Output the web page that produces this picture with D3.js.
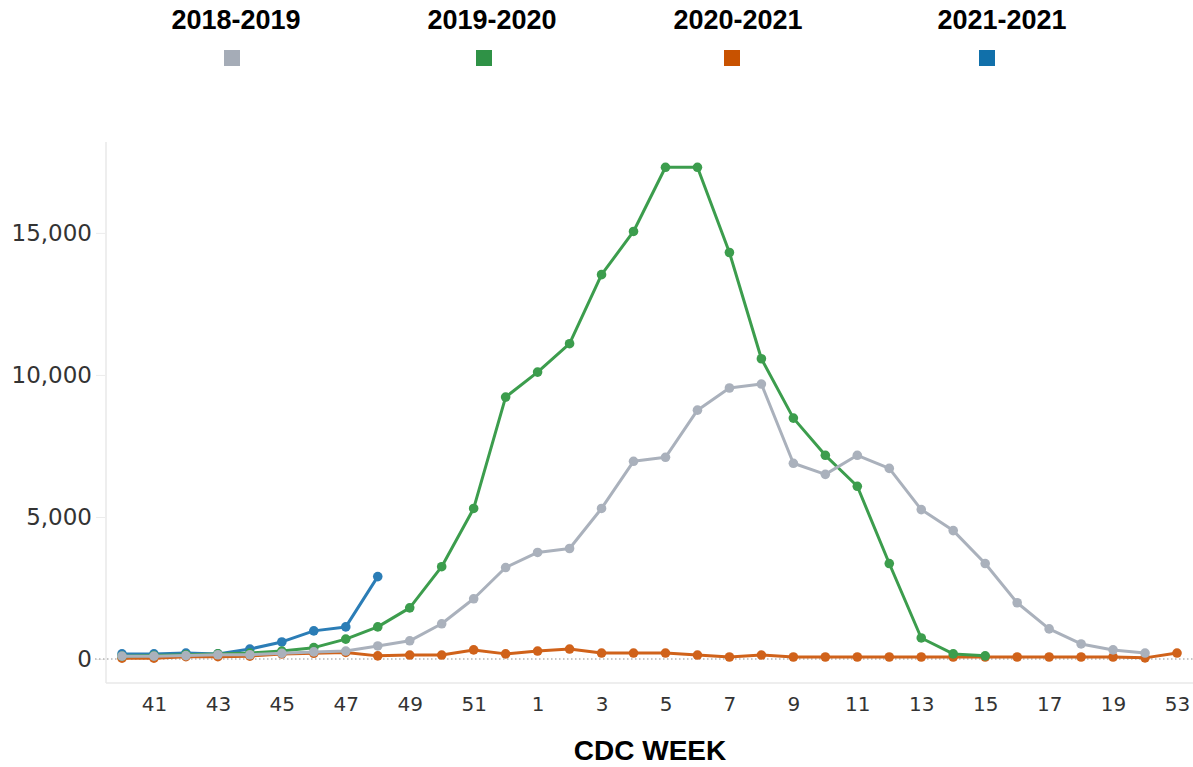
<!DOCTYPE html>
<html>
<head>
<meta charset="utf-8">
<script src="https://cdn.jsdelivr.net/npm/d3@7"></script>
<style>
  body { margin: 0; background: #fff; }
  svg { display: block; }
</style>
</head>
<body>
<div id="chart"></div>
<script>
(function() {
    "use strict";

    // CDC weeks, season order (week 53 sits at the end)
    const weeks = [40, 41, 42, 43, 44, 45, 46, 47, 48, 49, 50, 51, 52,
                   1, 2, 3, 4, 5, 6, 7, 8, 9, 10, 11, 12, 13, 14, 15, 16, 17, 18, 19, 20, 53];
    const tickWeeks = [41, 43, 45, 47, 49, 51, 1, 3, 5, 7, 9, 11, 13, 15, 17, 19, 53];
    const yTicks = [0, 5000, 10000, 15000];

    const seasons = ["2018-2019", "2019-2020", "2020-2021", "2021-2021"];
    const legendColors = ["#a5acb7", "#2f9246", "#c85200", "#1170aa"];
    const lineColors = ["#aab1bc", "#3c9d4d", "#d0621a", "#2b7db6"];

    // values per week, null = no data
    const s2018 = [100, 100, 120, 150, 150, 200, 250, 280, 460, 640, 1240, 2120, 3220,
                   3750, 3890, 5300, 6960, 7100, 8760, 9540, 9680, 6890, 6500, 7170, 6710,
                   5260, 4520, 3360, 1980, 1060, 530, 320, 210, null];
    const s2019 = [100, 120, 150, 180, 210, 280, 400, 700, 1130, 1800, 3250, 5300, 9220,
                   10100, 11100, 13530, 15050, 17310, 17310, 14310, 10570, 8480, 7170, 6080, 3360,
                   740, 180, 110, null, null, null, null, null, null];
    const s2020 = [30, 30, 80, 80, 100, 180, 200, 230, 110, 140, 140, 320, 180,
                   280, 350, 210, 210, 210, 140, 70, 140, 70, 70, 70, 70,
                   70, 70, 70, 70, 70, 70, 70, 40, 210];
    const s2021 = [180, 180, 210, 180, 350, 600, 990, 1130, 2900, null, null, null, null,
                   null, null, null, null, null, null, null, null, null, null, null, null,
                   null, null, null, null, null, null, null, null, null];

    const seriesValues = [s2018, s2019, s2020, s2021];
    const drawOrder = [2, 3, 1, 0];

    const width = 1193;
    const height = 767;
    const svg = d3.select("#chart").append("svg").attr("width", width).attr("height", height);

    const x = d3.scalePoint().domain(weeks).range([106, 1193]).padding(0.5);
    const y = d3.scaleLinear().domain([-845, 18200]).range([683, 142]);

    // frame lines
    svg.append("line").attr("x1", 106).attr("x2", 106).attr("y1", 142).attr("y2", 683)
       .attr("stroke", "#e8e8e8").attr("stroke-width", 1.5);
    svg.append("line").attr("x1", 106).attr("x2", width).attr("y1", 683).attr("y2", 683)
       .attr("stroke", "#e8e8e8").attr("stroke-width", 1.5);

    // y axis
    const yAxis = d3.axisLeft(y).tickValues(yTicks).tickFormat(d3.format(",")).tickSize(9).tickPadding(4);
    const gy = svg.append("g").attr("transform", "translate(105,0)").call(yAxis);
    gy.select(".domain").remove();
    gy.selectAll(".tick line").attr("stroke", "#ececec");
    gy.selectAll(".tick text").attr("fill", "#333").style("font-family", "DejaVu Sans, Verdana, sans-serif")
      .style("font-size", "23px");

    // x axis
    const xAxis = d3.axisBottom(x).tickValues(tickWeeks).tickSize(0).tickPadding(14);
    const gx = svg.append("g").attr("transform", "translate(0,683)").call(xAxis);
    gx.select(".domain").remove();
    gx.selectAll(".tick text").attr("fill", "#333").style("font-family", "DejaVu Sans, Verdana, sans-serif")
      .style("font-size", "20px");

    // dotted zero line
    svg.append("line").attr("x1", 95).attr("x2", width).attr("y1", y(0)).attr("y2", y(0))
       .attr("stroke", "#b5b5b5").attr("stroke-width", 1.5).attr("stroke-dasharray", "1.5,2.5");

    const line = d3.line()
        .defined(function(d) { return d.v !== null; })
        .x(function(d) { return x(d.w); })
        .y(function(d) { return y(d.v); });

    drawOrder.forEach(function(i) {
        const pts = weeks.map(function(w, j) { return {w: w, v: seriesValues[i][j]}; });
        const g = svg.append("g");
        g.append("path").datum(pts).attr("d", line).attr("fill", "none")
         .attr("stroke", lineColors[i]).attr("stroke-width", 3).attr("stroke-linejoin", "round");
        g.selectAll("circle").data(pts.filter(function(d) { return d.v !== null; }))
         .enter().append("circle")
         .attr("cx", function(d) { return x(d.w); })
         .attr("cy", function(d) { return y(d.v); })
         .attr("r", 4.8)
         .attr("fill", lineColors[i]);
    });

    // legend
    const legendX = [236, 492, 738, 1002];
    const squareX = [232, 484, 732, 987];
    seasons.forEach(function(s, i) {
        svg.append("text").attr("x", legendX[i]).attr("y", 29).attr("text-anchor", "middle")
           .style("font-family", "Liberation Sans, Arial, sans-serif").style("font-weight", "bold")
           .style("font-size", "27px").attr("fill", "#000").text(s);
        svg.append("rect").attr("x", squareX[i] - 8).attr("y", 50).attr("width", 16).attr("height", 16)
           .attr("fill", legendColors[i]);
    });

    // x title
    svg.append("text").attr("x", 650).attr("y", 760).attr("text-anchor", "middle")
       .style("font-family", "Liberation Sans, Arial, sans-serif").style("font-weight", "bold")
       .style("font-size", "28px").attr("fill", "#000").text("CDC WEEK");
})();
</script>
</body>
</html>
